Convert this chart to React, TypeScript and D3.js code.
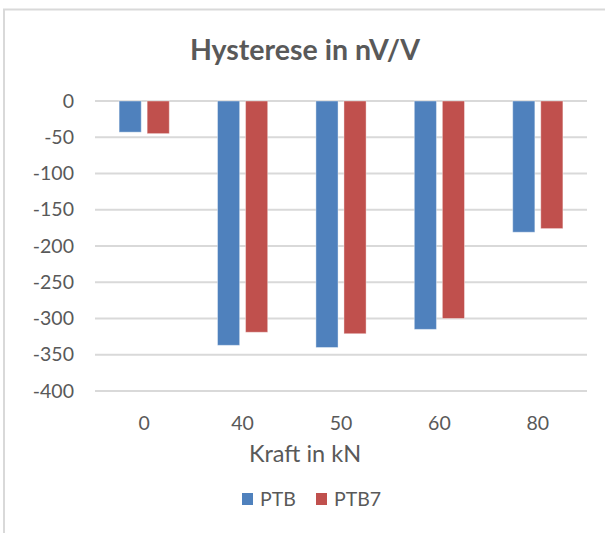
import React from "react";
import * as d3 from "d3";

const categories = ["0", "40", "50", "60", "80"];
const ptb = [-43, -337, -340, -315, -181];
const ptb7 = [-45, -319, -321, -300, -176];
const yTicks = [0, -50, -100, -150, -200, -250, -300, -350, -400];
const seriesNames = ["PTB", "PTB7"];
const seriesColors = ["#4F81BD", "#C0504D"];

const W = 605;
const H = 533;
const FONT = "Lato, 'Open Sans', sans-serif";
const TXT = "#595959";

export default function App() {
  const left = 95;
  const right = 587;
  const top = 101;
  const bottom = 391;
  const x = d3.scaleBand<string>().domain(categories).range([left, right]).padding(0);
  const y = d3.scaleLinear().domain([0, -400]).range([top, bottom]);
  const bw = x.bandwidth();
  const barW = bw * 0.225;
  const gap = bw * 0.06;
  const series = [ptb, ptb7];

  return (
    <svg
      width={W}
      height={H}
      style={{ position: "absolute", left: 0, top: 0, background: "#fff" }}
      fontFamily={FONT}
    >
      <rect x={0} y={0} width={W} height={H} fill="#fff" />
      <rect x={4} y={9.5} width={W + 20} height={H + 20} fill="none" stroke="#D9D9D9" strokeWidth={2} />
      <text x={305} y={60} textAnchor="middle" fontSize={28.5} fontWeight="bold" fill={TXT}>
        Hysterese in nV/V
      </text>
      {yTicks.map((t) => (
        <g key={t}>
          <line x1={left} x2={right} y1={y(t)} y2={y(t)} stroke="#D9D9D9" strokeWidth={2} />
          <text x={74} y={y(t) + 6.5} textAnchor="end" fontSize={19.5} fill={TXT}>
            {t}
          </text>
        </g>
      ))}
      {series.map((vals, si) =>
        vals.map((v, i) => {
          const cx = (x(categories[i]) as number) + bw / 2;
          const bx = si === 0 ? cx - gap / 2 - barW : cx + gap / 2;
          return (
            <rect
              key={si + "-" + i}
              x={bx}
              y={y(0)}
              width={barW}
              height={y(v) - y(0)}
              fill={seriesColors[si]}
              stroke="#ffffff"
              strokeOpacity={0.4}
              strokeWidth={1}
            />
          );
        })
      )}
      {categories.map((c) => (
        <text
          key={c}
          x={(x(c) as number) + bw / 2}
          y={430}
          textAnchor="middle"
          fontSize={19.5}
          fill={TXT}
        >
          {c}
        </text>
      ))}
      <text x={305} y={462} textAnchor="middle" fontSize={23.5} fill={TXT}>
        Kraft in kN
      </text>
      {seriesNames.map((n, i) => {
        const lx = i === 0 ? 242 : 316;
        return (
          <g key={n}>
            <rect x={lx} y={493} width={11} height={12} fill={seriesColors[i]} />
            <text x={lx + 18} y={506} fontSize={19.5} fill={TXT}>
              {n}
            </text>
          </g>
        );
      })}
    </svg>
  );
}
